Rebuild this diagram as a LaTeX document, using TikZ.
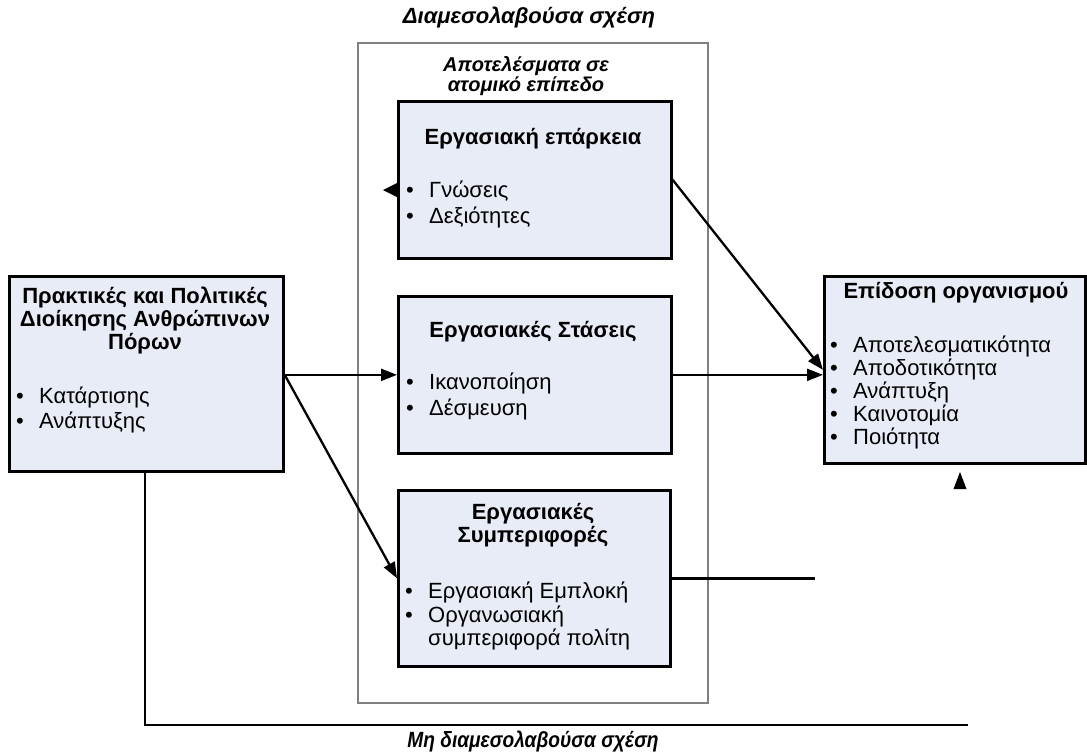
\documentclass[tikz,border=0pt]{standalone}
\usepackage{fontspec}
\setmainfont{Liberation Sans}
\usetikzlibrary{arrows.meta,positioning}
\definecolor{boxfill}{RGB}{232,236,246}
\definecolor{framegray}{RGB}{128,128,128}
\newcommand{\bul}{\makebox[23pt][l]{•}}
\begin{document}
\begin{tikzpicture}[x=1pt,y=-1pt,
    box/.style={draw, line width=2.7pt, fill=boxfill, anchor=north west, inner sep=0pt},
    outerframe/.style={draw=framegray, line width=1.3pt},
    conn/.style={line width=2.3pt, -{Triangle[length=16pt,width=12pt]}},
    link/.style={line width=2.3pt},
    heading/.style={font=\bfseries\fontsize{22}{23}\selectfont, align=center},
    item/.style={font=\fontsize{22}{23}\selectfont, anchor=west, inner sep=0pt, text height=15pt, text depth=5pt},
    caption/.style={font=\bfseries\itshape\fontsize{22}{23}\selectfont},
    stub/.style={fill=black},
    ]
    \useasboundingbox (0,0) rectangle (1087,755);

    % frame of the mediating outcomes
    \draw[outerframe] (358,43) rectangle (708,703);
    \node[caption] (medcap) at (529,18) {Διαμεσολαβούσα σχέση};
    \node[caption, font=\bfseries\itshape\fontsize{20}{17.5}\selectfont, align=center] (levelcap) at (526,76) {Αποτελέσματα σε\\ατομικό επίπεδο};

    % boxes
    \node[box, minimum width=274pt, minimum height=195pt] (hrm) at (8,275) {};
    \node[box, minimum width=273pt, minimum height=157pt] (comp) at (397,100) {};
    \node[box, minimum width=273pt, minimum height=157pt] (att) at (397,295) {};
    \node[box, minimum width=272pt, minimum height=176pt] (beh) at (397,489) {};
    \node[box, minimum width=261pt, minimum height=187pt] (perf) at (823,275) {};

    % texts
    \node[heading] (hrm-t) at (145,321) {Πρακτικές και Πολιτικές\\Διοίκησης Ανθρώπινων\\Πόρων};
    \node[item] (hrm-1) at (16,398) {\bul Κατάρτισης};
    \node[item] (hrm-2) at (16,423) {\bul Ανάπτυξης};

    \node[heading] (comp-t) at (533,139) {Εργασιακή επάρκεια};
    \node[item] (comp-1) at (406,192) {\bul Γνώσεις};
    \node[item] (comp-2) at (406,218) {\bul Δεξιότητες};

    \node[heading] (att-t) at (533,332) {Εργασιακές Στάσεις};
    \node[item] (att-1) at (406,384) {\bul Ικανοποίηση};
    \node[item] (att-2) at (406,410) {\bul Δέσμευση};

    \node[heading] (beh-t) at (533,525) {Εργασιακές\\Συμπεριφορές};
    \node[item] (beh-1) at (405,593) {\bul Εργασιακή Εμπλοκή};
    \node[item] (beh-2) at (405,617) {\bul Οργανωσιακή};
    \node[item] (beh-3) at (428,640) {συμπεριφορά πολίτη};

    \node[heading] (perf-t) at (956,293) {Επίδοση οργανισμού};
    \foreach \t [count=\i from 0] in {Αποτελεσματικότητα,Αποδοτικότητα,Ανάπτυξη,Καινοτομία,Ποιότητα}
        \node[item] (perf-\i) at (830,347+23*\i) {\bul \t};

    % connectors
    \coordinate (fork) at (hrm.east |- att.west);
    \draw[conn] (fork) -- (att.west);
    \draw[conn] (fork) -- (beh.west);
    \draw[conn] (comp.east) -- (perf.west);
    \draw[conn] (att.east) -- (perf.west |- att.east);
    \coordinate (behend) at (815,577);
    \draw[link] (beh.east) -- (beh.east -| behend);
    \coordinate (direct) at (145,725);
    \coordinate (directend) at (968,725);
    \draw[link] (hrm.south -| direct) -- (direct) -- (directend);
    \node[caption] (dircap) at (533,742) {\scalebox{0.87}[1]{Μη διαμεσολαβούσα σχέση}};

    % loose arrow tips
    \coordinate (tipA) at (383,190);
    \coordinate (tipB) at (960,472);
    \fill[stub] (tipA) -- ++(14,-7) -- ++(0,14) -- cycle;
    \fill[stub] (tipB) -- ++(-6.5,17) -- ++(13,0) -- cycle;
\end{tikzpicture}
\end{document}
